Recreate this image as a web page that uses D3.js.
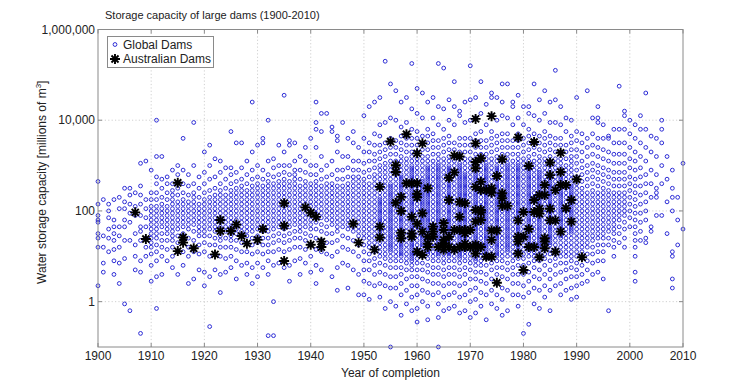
<!DOCTYPE html>
<html><head><meta charset="utf-8">
<script src="https://cdn.jsdelivr.net/npm/d3@7"></script>
<style>
body{margin:0;background:#fff}
svg{display:block}
text{font-family:"Liberation Sans",Arial,Helvetica,sans-serif;fill:#222}
</style>
</head><body>
<svg id="chart" width="754" height="391"></svg>
<script>
// ---------- DATA ----------
const titleText = "Storage capacity of large dams (1900-2010)";
const xTickYears = [1900,1910,1920,1930,1940,1950,1960,1970,1980,1990,2000,2010];
const yTickValues = [1, 100, 10000, 1000000];
const yTickLabels = ["1", "100", "10,000", "1,000,000"];
const legendLabels = ["Global Dams", "Australian Dams"];

// Global dams: "year: values", values = log10(capacity, millions m3) x 20
const global1900s = [
"1900: 53 43 38 36 35 30 28 24 7",
"1901: 45 29 24 17 13",
"1902: 43 40 37 32 28 22",
"1903: 45 36 33 30 27 23 18 12",
"1904: 46 41 33 29 24 17 8",
"1905: 50 44 41 36 33 27 19 -1",
"1906: 50 47 43 39 35 27 -4",
"1907: 48 42 38 30 25 20 14",
"1908: 61 51 47 43 38 33 31 27 18 13 -14",
"1909: 62 45 41 37 33 28 24 20"];
const global1910s = [
"1910: 58 48 45 42 40 38 36 34 32 30 28 26 24 21 16 9",
"1911: 80 64 55 52 48 45 42 40 38 36 34 32 30 28 25 22 18 11 -3",
"1912: 64 54 50 46 43 41 39 37 35 33 30 27 24 20 12",
"1913: 55 52 48 45 42 40 38 36 34 32 30 27 23 18",
"1914: 58 52 49 47 45 43 41 39 37 35 33 31 29 27 24 20 15",
"1915: 60 56 50 47 44 42 40 38 36 34 32 29 26 22 12",
"1916: 72 58 52 48 45 43 41 39 37 35 33 30 27 22 16",
"1917: 56 51 47 44 42 40 38 36 34 32 28 24 20 8",
"1918: 79 60 52 48 46 44 42 40 38 36 34 31 27 22 10",
"1919: 55 50 46 43 41 39 37 35 33 31 29 25 21 14"];
const global1920s = [
"1920: 66 57 52 48 45 43 41 39 37 35 33 31 29 26 22 13 7",
"1921: 69 60 54 49 46 44 42 40 38 36 34 32 29 25 20 11 -11",
"1922: 63 55 50 47 45 43 41 39 37 35 33 31 28 25 21 14",
"1923: 62 57 52 49 47 45 43 41 39 37 35 33 31 29 27 24 20 12 4",
"1924: 59 54 50 47 45 43 41 39 37 35 33 31 28 24 19 13",
"1925: 75 59 56 52 49 47 45 43 41 39 37 35 33 31 29 27 24 20 15",
"1926: 70 57 53 50 48 46 44 42 40 38 36 34 32 30 27 23 18 10",
"1927: 70 59 54 51 49 47 45 43 41 39 37 35 33 31 29 26 22 16",
"1928: 62 56 52 49 47 45 43 41 39 37 35 33 31 29 26 22 17 12",
"1929: 88 66 58 54 51 49 47 45 43 41 39 37 35 33 31 28 25 21 15 8"];
const global1930s = [
"1930: 69 60 55 52 50 48 46 44 42 40 38 36 34 32 29 26 22 17 11",
"1931: 72 70 58 54 51 49 47 45 43 41 39 37 35 33 31 28 25 21 15",
"1932: 80 62 56 53 51 49 47 45 43 41 39 37 35 33 31 28 25 22 18 12 -15",
"1933: 63 59 55 52 50 48 46 44 42 40 38 36 34 32 29 26 22 16 0 -15",
"1934: 69 60 56 53 51 49 47 45 43 41 39 37 35 33 30 27 23 17",
"1935: 91 66 60 57 54 52 50 48 46 44 42 40 38 36 34 32 29 26 22 15",
"1936: 71 69 60 56 53 51 49 47 45 43 41 39 37 35 33 30 27 23 16 9",
"1937: 70 62 58 56 54 52 50 48 46 44 42 40 38 36 34 31 28 24 18",
"1938: 64 58 54 51 49 47 45 43 41 39 37 35 33 31 28 24 19 12",
"1939: 68 62 57 53 51 49 47 45 43 41 39 37 35 33 30 27 23 17"];
const global1940s = [
"1940: 72 60 56 52 50 48 46 44 42 40 38 36 34 32 29 25 20 13",
"1941: 88 79 76 68 60 56 53 51 49 47 45 43 41 39 37 35 32 28 23 16 8",
"1942: 83 75 64 58 54 51 49 47 45 43 41 39 37 34 31 27 22 14",
"1943: 83 60 55 52 50 48 46 44 42 40 38 36 33 30 26 21",
"1944: 77 75 62 56 52 50 48 46 44 42 40 38 36 34 30 26 20 11",
"1945: 73 71 66 58 54 51 49 47 45 43 41 39 37 35 33 31 27 22 15 5",
"1946: 79 64 58 54 51 49 47 45 43 41 39 37 35 33 29 24 17",
"1947: 72 64 59 55 52 50 48 46 44 42 40 38 36 34 32 28 23 16 6",
"1948: 75 70 62 58 55 53 51 49 47 45 43 41 39 37 35 33 31 27 22 14",
"1949: 68 62 58 55 53 51 49 47 45 43 41 39 37 35 33 31 29 25 20 12 3"];
const global1950s = [
"1950: 82 72 66 61 57 54 52 50 48 46 44 42 40 38 36 34 32 30 28 25 22 18 14 9 3",
"1951: 86 70 66 62 58 55 52 50 48 46 44 42 40 38 36 34 32 30 28 26 24 21 18 14 8 1",
"1952: 88 74 69 65 62 59 56 54 52 50 48 46 44 42 40 38 36 34 32 30 28 26 24 22 19 16 12 7",
"1953: 90 78 73 69 66 63 60 58 56 54 52 50 48 46 45 44 43 42 41 40 39 38 37 36 35 34 33 32 31 30 28 26 24 22 20 17 13 8 2",
"1954: 106 79 70 67 64 61 59 57 55 53 51 49 47 45 43 41 39 37 35 33 31 29 27 25 23 21 19 16 12 7 -3",
"1955: 96 81 72 68 65 62 60 58 56 54 52 51 50 49 48 47 46 45 44 43 42 41 40 39 38 37 36 35 34 33 32 31 30 29 28 27 26 25 24 23 22 20 18 15 11 6 0 -20",
"1956: 93 80 71 68 65 62 60 58 56 54 52 50 48 46 44 42 40 38 36 34 32 30 28 26 24 22 20 18 15 11 6 -2",
"1957: 88 77 73 70 67 64 62 60 58 56 55 54 53 52 51 50 49 48 47 46 45 44 43 42 41 40 39 38 37 36 35 34 33 32 31 30 29 28 27 26 25 24 23 22 21 20 18 15 12 8 3 -6",
"1958: 90 79 72 69 66 63 61 59 57 55 53 51 49 47 45 43 41 39 37 35 33 31 29 27 25 23 21 19 17 14 10 5 -1",
"1959: 105 85 76 72 69 66 64 62 60 59 58 57 56 55 54 53 52 51 50 49 48 47 46 45 44 43 42 41 40 39 38 37 36 35 34 33 32 31 30 29 28 27 26 25 24 23 22 21 20 19 18 16 14 11 7 2 -4"];
const global1960s = [
"1960: 94 83 75 72 69 66 63 61 59 57 55 53 51 49 47 45 43 41 39 37 35 33 31 29 27 25 23 21 19 17 14 11 7 3 -3 -9",
"1961: 92 81 73 70 67 64 62 60 58 56 54 53 52 51 50 49 48 47 46 45 44 43 42 41 40 39 38 37 36 35 34 33 32 31 30 29 28 27 26 25 24 22 20 17 14 10 5 0",
"1962: 88 76 73 70 67 64 62 60 59 58 57 56 55 54 53 52 51 50 49 48 47 46 45 44 43 42 41 40 39 38 37 36 35 34 33 32 31 30 29 28 27 26 25 24 23 22 21 19 16 13 9 4 -2 -8",
"1963: 90 81 74 71 68 65 62 60 58 56 54 52 50 48 46 44 42 40 38 36 34 32 30 28 26 24 22 20 18 15 12 8 3",
"1964: 105 86 78 71 68 65 63 61 60 59 58 57 56 55 54 53 52 51 50 49 48 47 46 45 44 43 42 41 40 39 38 37 36 35 34 33 32 31 30 29 28 27 26 25 24 23 22 21 20 18 15 12 8 4 -1 -7 -20",
"1965: 103 85 76 72 69 66 63 61 59 57 55 53 51 49 47 45 43 41 39 37 35 33 31 29 27 25 23 21 19 17 14 11 7 2 -4",
"1966: 89 80 73 70 67 64 62 60 59 58 57 56 55 54 53 52 51 50 49 48 47 46 45 44 43 42 41 40 39 38 37 36 35 34 33 32 31 30 29 28 27 26 25 24 23 22 21 20 18 15 12 8 3 -3",
"1967: 97 86 78 70 67 64 62 60 58 56 54 52 50 48 46 44 42 40 38 36 34 32 30 28 26 24 22 20 18 15 12 8 4 -2",
"1968: 84 82 72 69 66 63 61 60 59 58 57 56 55 54 53 52 51 50 49 48 47 46 45 44 43 42 41 40 39 38 37 36 35 34 33 32 31 30 29 28 27 26 25 24 23 22 21 20 19 17 14 11 7 2 -5",
"1969: 88 79 72 69 66 63 61 59 57 56 55 54 53 52 51 50 49 48 47 46 45 44 43 42 41 40 39 38 37 36 35 34 33 32 31 30 29 28 27 26 25 24 23 22 20 18 15 12 8 3 -4"];
const global1970s = [
"1970: 104 89 80 72 69 66 63 61 59 57 55 53 51 49 47 45 43 41 39 37 35 33 31 29 27 25 23 21 19 17 14 10 5 0 -7",
"1971: 90 81 74 71 68 65 63 61 60 59 58 57 56 55 54 53 52 51 50 49 48 47 46 45 44 43 42 41 40 39 38 37 36 35 34 33 32 31 30 29 28 27 26 25 24 23 22 21 20 19 18 16 13 10 6 1 -5",
"1972: 97 83 75 71 68 65 62 60 58 56 54 52 50 48 46 44 42 40 38 36 34 32 30 28 26 24 22 20 18 16 13 9 4 -2",
"1973: 87 78 71 68 65 63 61 60 59 58 57 56 55 54 53 52 51 50 49 48 47 46 45 44 43 42 41 40 39 38 37 36 35 34 33 32 31 30 29 28 27 26 25 24 23 22 21 19 16 12 8 3 -8",
"1974: 92 90 82 75 72 69 66 63 61 59 57 55 53 51 49 47 45 43 41 39 37 35 33 31 29 27 25 23 21 19 17 14 10 5 -1",
"1975: 90 80 73 70 67 64 62 60 59 58 57 56 55 54 53 52 51 50 49 48 47 46 45 44 43 42 41 40 39 38 37 36 35 34 33 32 31 30 29 28 27 26 25 24 23 22 21 20 18 15 12 8 3 -3",
"1976: 96 88 82 74 71 68 65 62 60 58 56 54 52 50 48 46 44 42 40 38 36 34 32 30 28 26 24 22 20 18 15 11 6 1 -6",
"1977: 96 81 74 71 68 65 63 61 60 59 58 57 56 55 54 53 52 51 50 49 48 47 46 45 44 43 42 41 40 39 38 37 36 35 34 33 32 31 30 29 28 27 26 25 24 23 22 20 17 14 10 5 -4",
"1978: 88 86 78 71 68 65 62 60 58 56 54 52 50 48 46 44 42 40 38 36 34 32 30 28 26 24 22 20 18 15 12 8 3",
"1979: 91 81 74 71 68 65 63 61 60 59 58 57 56 55 54 53 52 51 50 49 48 47 46 45 44 43 42 41 40 39 38 37 36 35 34 33 32 31 30 29 28 27 26 25 24 23 22 21 19 16 12 8 3 -2"];
const global1980s = [
"1980: 86 78 72 69 66 63 61 59 57 55 53 51 49 47 45 43 41 39 37 35 33 31 29 27 25 23 21 19 16 12 7 2 -14",
"1981: 86 83 76 73 70 67 64 62 60 59 58 57 56 55 54 53 52 51 50 49 48 47 46 45 44 43 42 41 40 39 38 37 36 35 34 33 32 31 30 29 28 27 26 25 24 23 22 20 17 13 9 4 -10",
"1982: 96 82 74 71 68 65 62 60 58 56 54 52 50 48 46 44 42 40 38 36 34 32 30 28 26 24 22 20 18 15 11 6 -1",
"1983: 89 80 73 70 67 64 62 60 58 57 56 55 54 53 52 51 50 49 48 47 46 45 44 43 42 41 40 39 38 37 36 35 34 33 32 31 30 29 28 27 26 25 24 23 21 18 14 10 5 -3",
"1984: 93 83 75 72 69 66 63 61 59 57 55 53 51 49 47 45 43 41 39 37 35 33 31 29 27 25 23 21 19 16 12 7 2",
"1985: 88 79 73 70 67 64 62 60 58 56 55 54 53 52 51 50 49 48 47 46 45 44 43 42 41 40 39 38 37 36 35 34 33 32 31 30 29 28 27 26 25 23 21 18 14 10 5 -4",
"1986: 102 89 79 72 69 66 63 61 59 57 55 53 51 49 47 45 43 41 39 37 35 33 31 29 27 25 23 21 19 16 12 7",
"1987: 86 78 72 69 66 63 61 59 57 55 54 53 52 51 50 49 48 47 46 45 44 43 42 41 40 39 38 37 36 35 34 33 32 31 30 29 28 26 24 22 20 17 13 8 3",
"1988: 81 75 69 66 63 60 58 56 54 52 50 48 46 44 42 40 38 36 34 32 30 28 26 24 22 20 17 14 10 5",
"1989: 80 73 70 67 64 62 60 58 56 54 52 51 50 49 48 47 46 45 44 43 42 41 40 39 38 37 36 35 34 33 32 31 30 28 26 24 22 20 18 15 11 6 1"];
const global1990s = [
"1990: 90 75 71 67 64 61 58 55 52 50 48 46 44 42 40 38 36 34 32 30 28 26 24 22 20 17 14 11 7 2",
"1991: 74 70 66 62 59 56 53 50 48 46 44 42 40 38 36 34 32 30 28 26 24 22 19 16 12 8",
"1992: 93 72 68 64 60 57 54 51 48 46 44 42 40 38 36 34 32 30 28 26 24 21 18 14 9",
"1993: 81 74 69 65 61 58 55 52 49 47 45 43 41 39 37 35 33 31 29 27 24 21 17 12",
"1994: 86 81 79 72 68 64 60 57 54 51 48 46 44 42 40 38 36 34 32 30 28 25 22 18 13",
"1995: 78 72 67 63 59 56 53 50 48 46 44 42 40 38 36 34 32 30 28 25 22 18 10",
"1996: 73 72 66 62 58 55 52 49 47 45 43 41 39 37 35 33 31 28 25 -4",
"1997: 76 70 65 61 57 54 51 48 46 44 42 40 38 36 34 32 30 27 24 20",
"1998: 95 76 70 65 61 57 54 51 48 46 44 42 40 38 36 33 30 26",
"1999: 84 82 76 70 65 61 57 54 51 48 46 44 42 40 38 35 32 28 24"];
const global2000s = [
"2000: 80 74 68 63 59 55 52 49 46 43 40 37 33",
"2001: 78 72 66 62 58 54 51 48 45 42 39 36 33 30 27 24 20 13 9",
"2002: 82 76 70 64 59 55 51 47 43 39 35 31 27",
"2003: 92 76 68 62 56 52 48 44 40 36 28 26",
"2004: 73 66 58 52 46 33 31",
"2005: 72 64 56 50 48 46 38",
"2006: 80 76 70 60 52 38",
"2007: 64 54 44 30",
"2008: 58 50 46 40 22 20 10 6",
"2009: 46 36 25",
"2010: 61 32"];

// Australian dams (year of completion, capacity in millions m3)
const ausYears = [1907,1909,1915,1915,1916,1916,1918,1922,1923,1923,1925,1926,1927,1928,1930,1931,1935,1935,1935,1939,1940,1940,1941,1942,1942,1948,1949,1952,1953,1953,1953,1955,1956,1956,1956,1957,1957,1957,1957,1958,1958,1959,1959,1959,1959,1960,1960,1960,1960,1960,1960,1961,1961,1961,1961,1962,1962,1962,1962,1963,1963,1963,1964,1965,1965,1965,1965,1965,1966,1966,1966,1966,1967,1967,1967,1967,1968,1968,1968,1968,1968,1969,1969,1969,1969,1969,1970,1970,1971,1971,1971,1971,1971,1971,1971,1971,1971,1971,1972,1972,1972,1972,1972,1972,1972,1973,1973,1974,1974,1974,1974,1974,1974,1975,1975,1975,1976,1976,1976,1976,1977,1979,1979,1979,1979,1979,1980,1980,1980,1981,1981,1981,1982,1982,1982,1982,1983,1983,1983,1983,1984,1984,1984,1984,1984,1985,1985,1985,1985,1986,1986,1986,1987,1987,1987,1987,1988,1988,1989,1989,1990,1991];
const ausCapacity = [93,24,417,13,26,20,15,11,63,36,36,50,28,19,23,40,148,47,7.9,120,91,18,74,21,16,52,20,14,339,45,26,3390,1020,724,151,204,100,33,25,4900,407,407,74,32,27,1860,407,240,200,52,12.6,3090,89,35,10.7,316,27,19,16,45,35,27,16,54,38,23,19,14,537,174,27,16,1660,708,38,14,1580,158,74,38,16,148,38,32,19,16,38,16,10700,3090,1200,871,339,105,58,18,16,11.5,1450,437,288,105,93,63,16,288,9.8,12300,316,251,37,23,9.8,589,37,2.6,1380,245,191,129,129,4170,62,27,21,11.5,95,27,5,977,40,16,3310,174,95,16,224,112,87,9.5,372,224,25,21,15,1170,617,112,62,288,62,12.6,1910,724,372,35,372,115,174,58,501,9.5];

// ---------- CHART ----------
const svg = d3.select("#chart");
const L = 98, R = 683, T = 29.5, B = 347;
const x = d3.scaleLinear().domain([1900, 2010]).range([L, R]);
const y = d3.scaleLog().domain([0.1, 1e6]).range([B, T]);

const globalRows = [].concat(global1900s, global1910s, global1920s, global1930s,
  global1940s, global1950s, global1960s, global1970s, global1980s, global1990s, global2000s);
const globalPts = [];
globalRows.forEach(row => {
  const [yr, vals] = row.split(":");
  vals.trim().split(/\s+/).forEach(v => globalPts.push({year: +yr, cap: Math.pow(10, (+v) / 20)}));
});
const ausPts = ausYears.map((yr, i) => ({year: yr, cap: ausCapacity[i]}));

const blue = "#2c2cd6";

// grid
const grid = svg.append("g").attr("stroke", "#c4c4c4").attr("stroke-width", 0.8).attr("stroke-dasharray", "1.2,2.2");
xTickYears.slice(1, -1).forEach(t => grid.append("line").attr("x1", x(t)).attr("x2", x(t)).attr("y1", T).attr("y2", B));
yTickValues.slice(0, -1).forEach(t => grid.append("line").attr("x1", L).attr("x2", R).attr("y1", y(t)).attr("y2", y(t)));

// global dams
svg.append("g").selectAll("circle").data(globalPts).join("circle")
  .attr("cx", d => x(d.year)).attr("cy", d => y(d.cap)).attr("r", 1.9)
  .attr("fill", "none").attr("stroke", blue).attr("stroke-width", 1);

// asterisk marker
function asterisk(cx, cy, r) {
  let p = "";
  for (let k = 0; k < 4; k++) {
    const a = k * Math.PI / 4, dx = r * Math.cos(a), dy = r * Math.sin(a);
    p += `M${cx - dx},${cy - dy}L${cx + dx},${cy + dy}`;
  }
  return p;
}
svg.append("g").selectAll("path").data(ausPts).join("path")
  .attr("d", d => asterisk(x(d.year), y(d.cap), 5))
  .attr("stroke", "#000").attr("stroke-width", 1.9).attr("fill", "none");

// axes box
svg.append("rect").attr("x", L).attr("y", T).attr("width", R - L).attr("height", B - T)
  .attr("fill", "none").attr("stroke", "#8a8a8a").attr("stroke-width", 1);

// ticks
const tk = svg.append("g").attr("stroke", "#8a8a8a").attr("stroke-width", 1);
xTickYears.forEach(t => {
  tk.append("line").attr("x1", x(t)).attr("x2", x(t)).attr("y1", B).attr("y2", B - 4);
  tk.append("line").attr("x1", x(t)).attr("x2", x(t)).attr("y1", T).attr("y2", T + 4);
});
yTickValues.forEach(t => {
  tk.append("line").attr("x1", L).attr("x2", L + 4).attr("y1", y(t)).attr("y2", y(t));
  tk.append("line").attr("x1", R).attr("x2", R - 4).attr("y1", y(t)).attr("y2", y(t));
});

// tick labels
svg.append("g").selectAll("text").data(xTickYears).join("text")
  .attr("x", d => x(d)).attr("y", B + 13).attr("text-anchor", "middle")
  .attr("font-size", 12).text(d => d);
svg.append("g").selectAll("text").data(yTickValues).join("text")
  .attr("x", L - 3).attr("y", d => y(d) + 4).attr("text-anchor", "end")
  .attr("font-size", 12).text((d, i) => yTickLabels[i]);

// axis titles
svg.append("text").attr("x", (L + R) / 2).attr("y", 377).attr("text-anchor", "middle")
  .attr("font-size", 12).text("Year of completion");
const yl = svg.append("text").attr("transform", `translate(46,${(T + B) / 2 - 6}) rotate(-90)`)
  .attr("text-anchor", "middle").attr("font-size", 12);
yl.append("tspan").text("Water storage capacity [millions of m");
yl.append("tspan").attr("font-size", 8).attr("dy", -5).text("3");
yl.append("tspan").attr("dy", 5).text("]");

// title
svg.append("text").attr("x", 105).attr("y", 19).attr("font-size", 11).text(titleText);

// legend
const lg = svg.append("g");
lg.append("rect").attr("x", 107.5).attr("y", 36.5).attr("width", 106).attr("height", 31)
  .attr("fill", "#fff").attr("stroke", "#8a8a8a");
lg.append("circle").attr("cx", 115).attr("cy", 44.5).attr("r", 1.9)
  .attr("fill", "none").attr("stroke", blue).attr("stroke-width", 1);
lg.append("path").attr("d", asterisk(115, 59, 5)).attr("stroke", "#000").attr("stroke-width", 1.9);
lg.append("text").attr("x", 123).attr("y", 48.5).attr("font-size", 12).text(legendLabels[0]);
lg.append("text").attr("x", 123).attr("y", 63).attr("font-size", 12).text(legendLabels[1]);
</script>
</body></html>
